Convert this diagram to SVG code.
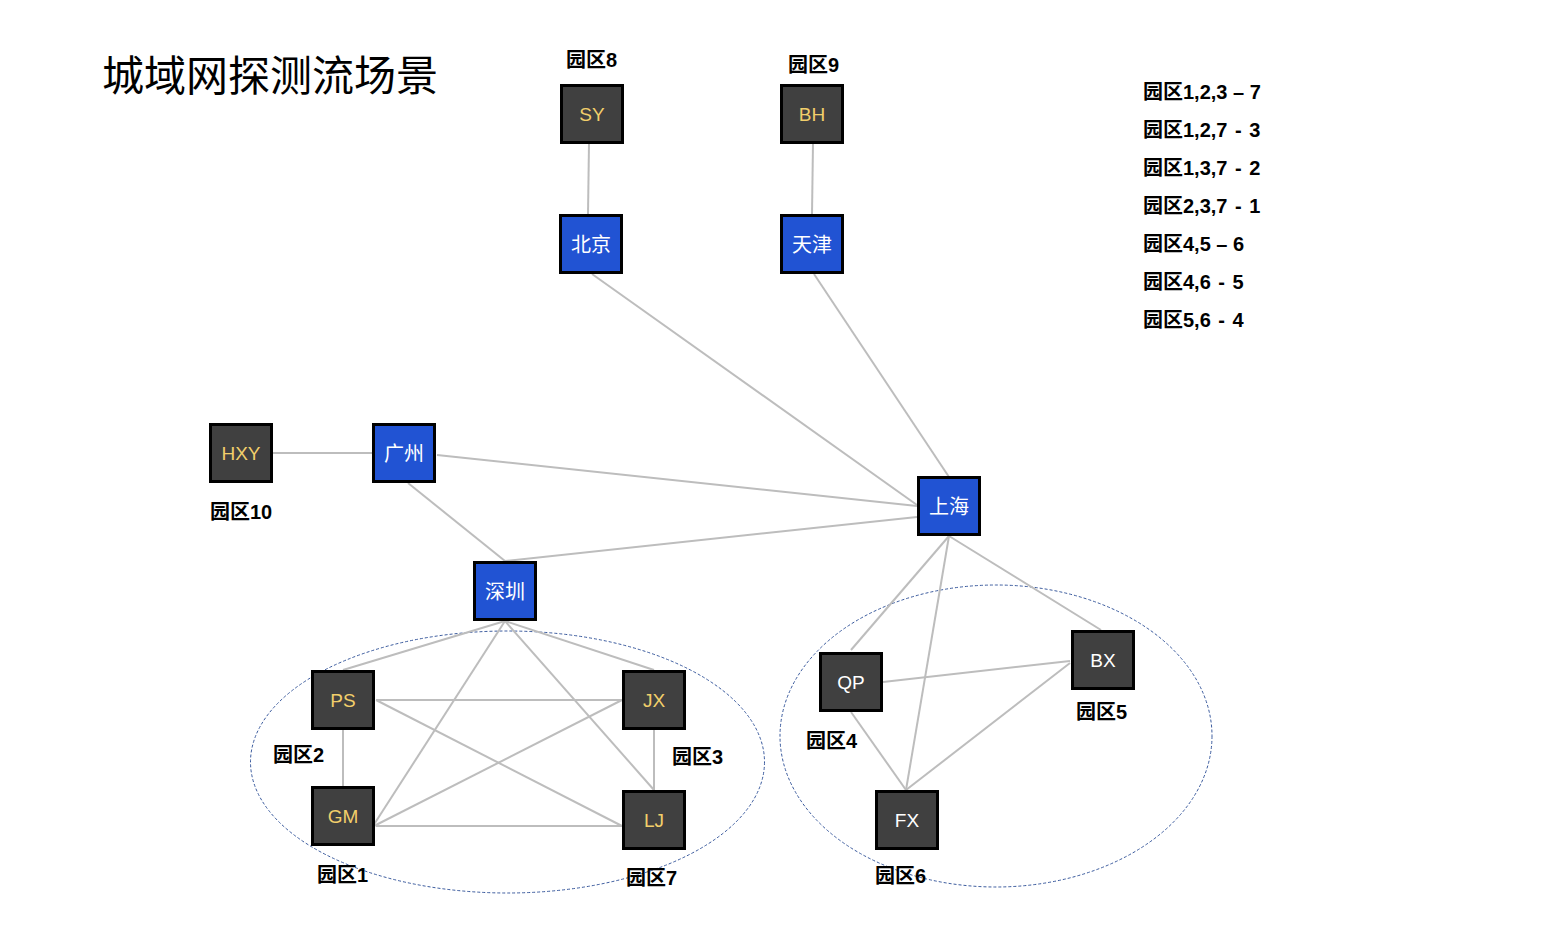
<svg xmlns="http://www.w3.org/2000/svg" width="1568" height="940" viewBox="0 0 1568 940">
<style>
.bg{fill:#ffffff}
.title{font-family:"Noto Sans CJK SC","Liberation Sans",sans-serif;font-size:42px;fill:#000}
.lbl{font-family:"Liberation Sans","Noto Sans CJK SC",sans-serif;font-size:20px;font-weight:bold;fill:#000}
.box{stroke:#000;stroke-width:3}
.dark{fill:#404040}
.blue{fill:#2153d3}
.t{font-family:"Liberation Sans","Noto Sans CJK SC",sans-serif;font-size:19px;text-anchor:middle}
.tc{font-family:"Noto Sans CJK SC","Liberation Sans",sans-serif;font-size:20px;text-anchor:middle;fill:#fff}
.gold{fill:#f2cf6b}
.white{fill:#fff}
.conn line{stroke:#bdbdbd;stroke-width:2;fill:none}
.zone{fill:none;stroke:#3b5b9e;stroke-width:1;stroke-dasharray:3 2}
</style>
<rect class="bg" x="0" y="0" width="1568" height="940"/>
<text class="title" x="102" y="91">城域网探测流场景</text>

<g id="zones">
<ellipse class="zone" cx="507.5" cy="762" rx="257" ry="131"/>
<ellipse class="zone" cx="996" cy="736" rx="216" ry="151"/>
</g>

<g id="connectors" class="conn">
<line x1="589" y1="143" x2="588" y2="214"/>
<line x1="813" y1="143" x2="812" y2="214"/>
<line x1="592" y1="274" x2="917" y2="505"/>
<line x1="814" y1="274" x2="949" y2="477"/>
<line x1="437" y1="455" x2="917" y2="506"/>
<line x1="917" y1="517" x2="505" y2="561"/>
<line x1="273" y1="453" x2="372" y2="453"/>
<line x1="408" y1="483" x2="505" y2="561"/>
<line x1="505" y1="621" x2="343" y2="670"/>
<line x1="505" y1="621" x2="654" y2="670"/>
<line x1="505" y1="621" x2="373" y2="826"/>
<line x1="505" y1="621" x2="654" y2="790"/>
<line x1="376" y1="700" x2="622" y2="700"/>
<line x1="376" y1="700" x2="622" y2="826"/>
<line x1="343" y1="730" x2="343" y2="786"/>
<line x1="622" y1="700" x2="374" y2="826"/>
<line x1="376" y1="826" x2="622" y2="826"/>
<line x1="654" y1="730" x2="654" y2="790"/>
<line x1="949" y1="536" x2="851" y2="650"/>
<line x1="949" y1="536" x2="906" y2="790"/>
<line x1="949" y1="536" x2="1101" y2="630"/>
<line x1="883" y1="682" x2="1070" y2="661"/>
<line x1="851" y1="712" x2="906" y2="790"/>
<line x1="1070" y1="663" x2="906" y2="790"/>
</g>

<g id="node-SY"><rect class="box dark" x="561.5" y="85.5" width="61" height="57"/><text class="t gold" x="592" y="121">SY</text></g>
<g id="node-BH"><rect class="box dark" x="781.5" y="85.5" width="61" height="57"/><text class="t gold" x="812" y="121">BH</text></g>
<g id="node-beijing"><rect class="box blue" x="560.5" y="215.5" width="61" height="57"/><text class="tc" x="591" y="252">北京</text></g>
<g id="node-tianjin"><rect class="box blue" x="781.5" y="215.5" width="61" height="57"/><text class="tc" x="812" y="252">天津</text></g>
<g id="node-HXY"><rect class="box dark" x="210.5" y="424.5" width="61" height="57"/><text class="t gold" x="241" y="460">HXY</text></g>
<g id="node-guangzhou"><rect class="box blue" x="373.5" y="424.5" width="61" height="57"/><text class="tc" x="404" y="461">广州</text></g>
<g id="node-shenzhen"><rect class="box blue" x="474.5" y="562.5" width="61" height="57"/><text class="tc" x="505" y="599">深圳</text></g>
<g id="node-shanghai"><rect class="box blue" x="918.5" y="477.5" width="61" height="57"/><text class="tc" x="949" y="514">上海</text></g>
<g id="node-PS"><rect class="box dark" x="312.5" y="671.5" width="61" height="57"/><text class="t gold" x="343" y="707">PS</text></g>
<g id="node-JX"><rect class="box dark" x="623.5" y="671.5" width="61" height="57"/><text class="t gold" x="654" y="707">JX</text></g>
<g id="node-GM"><rect class="box dark" x="312.5" y="787.5" width="61" height="57"/><text class="t gold" x="343" y="823">GM</text></g>
<g id="node-LJ"><rect class="box dark" x="623.5" y="791.5" width="61" height="57"/><text class="t gold" x="654" y="827">LJ</text></g>
<g id="node-QP"><rect class="box dark" x="820.5" y="653.5" width="61" height="57"/><text class="t white" x="851" y="689">QP</text></g>
<g id="node-BX"><rect class="box dark" x="1072.5" y="631.5" width="61" height="57"/><text class="t white" x="1103" y="667">BX</text></g>
<g id="node-FX"><rect class="box dark" x="876.5" y="791.5" width="61" height="57"/><text class="t white" x="907" y="827">FX</text></g>

<g id="labels">
<text class="lbl" x="566" y="67">园区8</text>
<text class="lbl" x="788" y="72">园区9</text>
<text class="lbl" x="210" y="519">园区10</text>
<text class="lbl" x="273" y="762">园区2</text>
<text class="lbl" x="317" y="882">园区1</text>
<text class="lbl" x="672" y="764">园区3</text>
<text class="lbl" x="626" y="885">园区7</text>
<text class="lbl" x="806" y="748">园区4</text>
<text class="lbl" x="1076" y="719">园区5</text>
<text class="lbl" x="875" y="883">园区6</text>
</g>

<g id="legend">
<text class="lbl" x="1143" y="99">园区1,2,3 – 7</text>
<text class="lbl" x="1143" y="137">园区1,2,7 <tspan dx="2">-</tspan> <tspan dx="2">3</tspan></text>
<text class="lbl" x="1143" y="175">园区1,3,7 <tspan dx="2">-</tspan> <tspan dx="2">2</tspan></text>
<text class="lbl" x="1143" y="213">园区2,3,7 <tspan dx="2">-</tspan> <tspan dx="2">1</tspan></text>
<text class="lbl" x="1143" y="251">园区4,5 – 6</text>
<text class="lbl" x="1143" y="289">园区4,6 <tspan dx="2">-</tspan> <tspan dx="2">5</tspan></text>
<text class="lbl" x="1143" y="327">园区5,6 <tspan dx="2">-</tspan> <tspan dx="2">4</tspan></text>
</g>
</svg>
